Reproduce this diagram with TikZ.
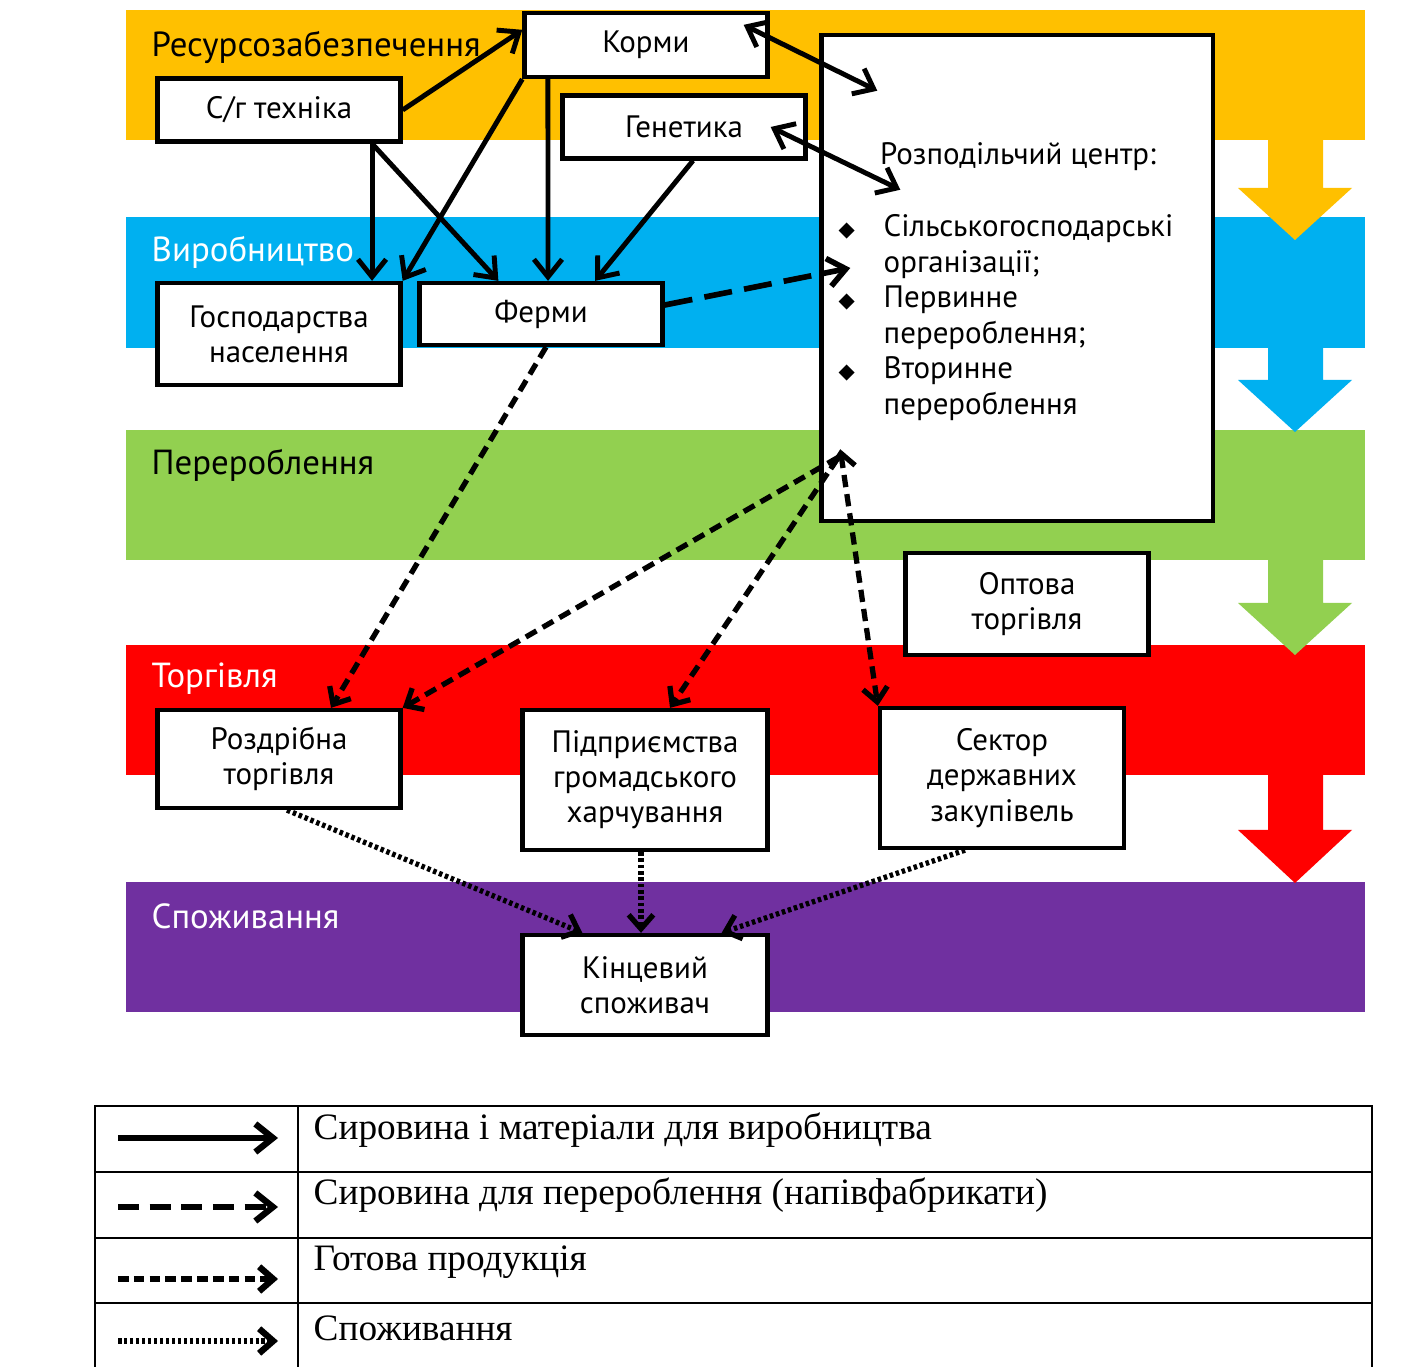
\documentclass[tikz,border=0pt]{standalone}
\usepackage{fontspec}
\setmainfont{PT Sans}
\newfontfamily\legfont{Liberation Serif}
\newfontfamily\symfont{DejaVu Sans}
\usetikzlibrary{arrows.meta}
\definecolor{resyellow}{HTML}{FFC000}
\definecolor{virblue}{HTML}{00B0F0}
\definecolor{pergreen}{HTML}{92D050}
\definecolor{torred}{HTML}{FF0000}
\definecolor{spopurple}{HTML}{7030A0}

\begin{document}
\begin{tikzpicture}
  [x=0.01cm,y=-0.01cm,
   box/.style={draw,line width=1.2pt,fill=white,minimum width=2.43cm,align=center,
     inner sep=0pt,font=\fontsize{8.8}{10}\selectfont},
   band/.style={anchor=west,inner sep=0pt,font=\fontsize{9.9}{12}\selectfont},
   legtxt/.style={anchor=west,inner sep=0pt,font=\legfont\fontsize{10.6}{12}\selectfont},
   solidarr/.style={line width=1.4pt,-{Straight Barb[length=5pt,width=8pt]}},
   soliddbl/.style={line width=1.4pt,{Straight Barb[length=5pt,width=8pt]}-{Straight Barb[length=5pt,width=8pt]}},
   semiarr/.style={line width=1.6pt,dash pattern=on 8pt off 3.5pt,-{Straight Barb[length=5pt,width=8pt]}},
   readyarr/.style={line width=1.5pt,dash pattern=on 3.5pt off 2pt,-{Straight Barb[length=4pt,width=7pt]}},
   readydbl/.style={line width=1.5pt,dash pattern=on 3.5pt off 2pt,{Straight Barb[length=4pt,width=7pt]}-{Straight Barb[length=4pt,width=7pt]}},
   consarr/.style={line width=1.5pt,dash pattern=on 1pt off 0.8pt,-{Straight Barb[length=4pt,width=7pt]}}]
  \useasboundingbox (0,0) rectangle (1405,1367);

  % stages
  \foreach \col/\ytop/\ybot in {resyellow/10/140,virblue/217/348,pergreen/430/560,torred/645/775,spopurple/882/1012}
    \fill[\col] (126,\ytop) rectangle (1365,\ybot);
  \foreach \col/\yb/\yh/\yt in {resyellow/138/188/240,virblue/346/380/432,pergreen/558/603/655,torred/773/830/883}
    \fill[\col] (1268,\yb) -- (1268,\yh) -- (1238,\yh) -- (1295,\yt) -- (1352,\yh) -- (1323,\yh) -- (1323,\yb) -- cycle;

  \node[band] (lres) at (151,47) {Ресурсозабезпечення};
  \node[band,text=white] (lvir) at (151,252) {Виробництво};
  \node[band] (lper) at (151,465) {Перероблення};
  \node[band,text=white] (ltor) at (151,679) {Торгівля};
  \node[band,text=white] (lspo) at (151,916) {Споживання};

  % boxes
  \node[box,minimum height=0.64cm] (korm) at (646,45) {Корми};
  \node[box,minimum height=0.63cm] (tekh) at (279,110) {С/г техніка};
  \node[box,minimum height=0.63cm] (genet) at (684,127) {Генетика};
  \node[box,minimum width=3.91cm,minimum height=4.86cm] (rozp) at (1017,278) {};
  \node[anchor=center,inner sep=0pt,font=\fontsize{8.8}{10}\selectfont] (rozphead) at (1018,157) {Розподільчий центр:};
  \node[anchor=north west,align=left,inner sep=0pt,font=\fontsize{8.8}{10.1}\selectfont] (rozplist) at (838,214)
    {\makebox[0.45cm][l]{\symfont\fontsize{6}{6}\selectfont ◆}Сільськогосподарські\\
     \hspace*{0.45cm}організації;\\
     \makebox[0.45cm][l]{\symfont\fontsize{6}{6}\selectfont ◆}Первинне\\
     \hspace*{0.45cm}перероблення;\\
     \makebox[0.45cm][l]{\symfont\fontsize{6}{6}\selectfont ◆}Вторинне\\
     \hspace*{0.45cm}перероблення};
  \node[box,minimum height=1.02cm] (gosp) at (279,334) {Господарства\\населення};
  \node[box,minimum height=0.62cm] (ferm) at (541,314) {Ферми};
  \node[box,minimum height=1.02cm] (opt) at (1027,604) {Оптова\\торгівля};
  \node[box,minimum height=0.98cm] (rozd) at (279,759) {Роздрібна\\торгівля};
  \node[box,minimum width=2.45cm,minimum height=1.40cm] (pidpr) at (645,780) {Підприємства\\громадського\\харчування};
  \node[box,minimum width=2.44cm,minimum height=1.40cm] (sekt) at (1002,778) {Сектор\\державних\\закупівель};
  \node[box,minimum width=2.45cm,minimum height=1.00cm] (kinc) at (645,985) {Кінцевий\\споживач};

  % raw materials
  \draw[solidarr] (tekh.east) -- (korm.173);
  \draw[solidarr] ([xshift=0.93cm]tekh.south) -- ([xshift=0.93cm]gosp.north);
  \draw[solidarr] ([xshift=0.93cm]tekh.south) -- ([xshift=0.81cm]ferm.north west);
  \draw[solidarr] (korm.south west) -- (gosp.north east);
  \draw[solidarr] ([xshift=-0.98cm]korm.south) -- ([xshift=0.07cm]ferm.north);
  \draw[solidarr] ([xshift=0.09cm]genet.south) -- ([xshift=0.54cm]ferm.north);
  \draw[soliddbl] ([shift={(-26,14)}]korm.north east) -- ([shift={(58,58)}]rozp.north west);
  \draw[soliddbl] ([xshift=-0.37cm]genet.east) -- ([shift={(81,157)}]rozp.north west);

  % semi-finished
  \draw[semiarr] ([shift={(0,-9)}]ferm.east) -- ([shift={(31,-10)}]rozp.west);

  % ready products
  \draw[readyarr] ([xshift=0.05cm]ferm.south) -- ([xshift=0.52cm]rozd.north);
  \draw[readyarr] ([shift={(19,-66)}]rozp.south west) -- (rozd.north east);
  \draw[readyarr] ([shift={(19,-66)}]rozp.south west) -- ([xshift=0.25cm]pidpr.north);
  \draw[readydbl] ([shift={(21,-74)}]rozp.south west) -- (sekt.north west);

  % consumption
  \draw[consarr] ([xshift=0.08cm]rozd.south) -- ([xshift=0.62cm]kinc.north west);
  \draw[consarr] ([xshift=-0.04cm]pidpr.south) -- ([xshift=-0.04cm]kinc.north);
  \draw[consarr] ([xshift=-0.37cm]sekt.south) -- ([xshift=-0.48cm]kinc.north east);

  % legend
  \draw[line width=0.6pt] (95,1367) -- (95,1106) -- (1372,1106) -- (1372,1367);
  \draw[line width=0.6pt] (298,1106) -- (298,1367);
  \foreach \y in {1172,1238,1303}
    \draw[line width=0.6pt] (95,\y) -- (1372,\y);
  \coordinate (la1) at (118,1138); \coordinate (lb1) at (278,1138);
  \coordinate (la2) at (118,1207); \coordinate (lb2) at (278,1207);
  \coordinate (la3) at (118,1279); \coordinate (lb3) at (278,1279);
  \coordinate (la4) at (118,1341); \coordinate (lb4) at (278,1341);
  \draw[solidarr,line width=1.8pt] (la1) -- (lb1);
  \draw[semiarr,line width=1.8pt,dash pattern=on 6pt off 3pt] (la2) -- (lb2);
  \draw[readyarr,line width=1.8pt,dash pattern=on 3pt off 1.5pt] (la3) -- (lb3);
  \draw[consarr,line width=1.8pt,dash pattern=on 1pt off 0.7pt] (la4) -- (lb4);
  \node[legtxt] (t1) at (313,1130) {Сировина і матеріали для виробництва};
  \node[legtxt] (t2) at (313,1195) {Сировина для перероблення (напівфабрикати)};
  \node[legtxt] (t3) at (313,1262) {Готова продукція};
  \node[legtxt] (t4) at (313,1328) {Споживання};
\end{tikzpicture}
\end{document}
